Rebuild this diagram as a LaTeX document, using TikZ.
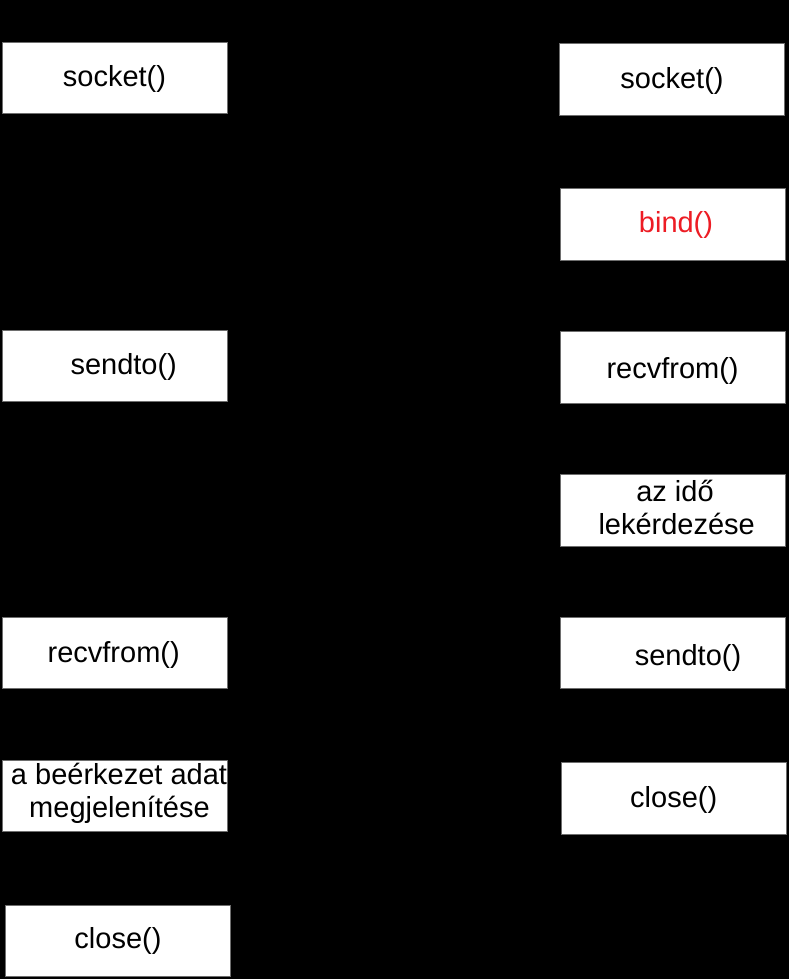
\documentclass[tikz,border=0pt]{standalone}
\usepackage{fontspec}
\setmainfont{Liberation Sans}
\definecolor{bindred}{RGB}{237,28,36}
\definecolor{edgegray}{RGB}{110,110,110}
\begin{document}
\begin{tikzpicture}[x=1pt,y=1pt,
  box/.style={draw=edgegray,line width=0.8pt,fill=white,inner sep=0pt,outer sep=0pt,
    minimum width=225pt,minimum height=71.5pt},
  lbl/.style={anchor=base,inner sep=0pt,font=\fontsize{29}{34}\selectfont,text=black}]
\useasboundingbox (0,0) rectangle (789,979);
\fill[black] (0,0) rectangle (789,979);
% left column (client)
\node[box] (lsock) at (114.75,{979-78}) {};
\node[box] (lsend) at (114.75,{979-365.75}) {};
\node[box] (lrecv) at (114.75,{979-653}) {};
\node[box] (lshow) at (114.75,{979-796}) {};
\node[box] (lclose) at (118,{979-941}) {};
% right column (server)
\node[box] (rsock) at (672.1,{979-79.5}) {};
\node[box] (rbind) at (672.5,{979-224.5}) {};
\node[box] (rrecv) at (672.5,{979-367.35}) {};
\node[box] (rtime) at (672.5,{979-510.2}) {};
\node[box] (rsend) at (672.5,{979-653}) {};
\node[box] (rclose) at (673.5,{979-798.35}) {};
% labels
\node[lbl] (tlsock) at (114.5,{979-87}) {socket()};
\node[lbl] (tlsend) at (123.7,{979-374.5}) {sendto()};
\node[lbl] (tlrecv) at (113.7,{979-662.5}) {recvfrom()};
\node[lbl] (tlshowa) at (119,{979-784.5}) {a beérkezet adat};
\node[lbl] (tlshowb) at (119.5,{979-817.5}) {megjelenítése};
\node[lbl] (tlclose) at (118,{979-949}) {close()};
\node[lbl] (trsock) at (672,{979-89}) {socket()};
\node[lbl,text=bindred] (trbind) at (676,{979-232.5}) {bind()};
\node[lbl] (trrecv) at (672.6,{979-378.5}) {recvfrom()};
\node[lbl] (trtimea) at (675,{979-501.5}) {az idő};
\node[lbl] (trtimeb) at (676.7,{979-535}) {lekérdezése};
\node[lbl] (trsend) at (688,{979-665.5}) {sendto()};
\node[lbl] (trclose) at (673.7,{979-807.5}) {close()};
\end{tikzpicture}
\end{document}
